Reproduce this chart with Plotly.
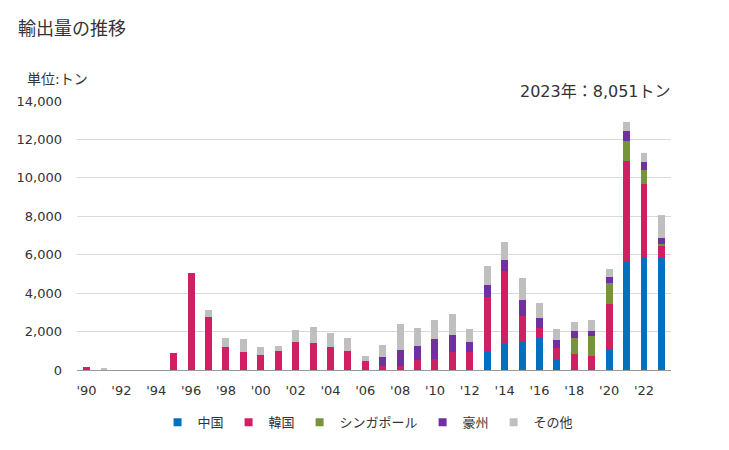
import plotly.graph_objects as go

years = list(range(1990, 2024))
tick_vals = list(range(1990, 2024, 2))
tick_text = ["'90", "'92", "'94", "'96", "'98", "'00", "'02", "'04", "'06", "'08",
             "'10", "'12", "'14", "'16", "'18", "'20", "'22"]

china = [0, 0, 0, 0, 0, 0, 0, 0, 0, 0, 0, 0, 0, 0, 0, 70, 0, 0, 0, 0,
         0, 0, 0, 1000, 1410, 1450, 1660, 520, 0, 0, 1100, 5620, 5880, 5830]
korea = [150, 0, 0, 0, 0, 900, 5050, 2760, 1200, 950, 790, 1000, 1470, 1410, 1200, 930, 480, 220, 220, 520,
         590, 930, 930, 2790, 3730, 1360, 530, 620, 840, 740, 2330, 5250, 3800, 630]
singapore = [0, 0, 0, 0, 0, 0, 0, 0, 0, 0, 0, 0, 0, 0, 0, 0, 0, 0, 0, 0,
             0, 0, 0, 0, 0, 0, 0, 0, 830, 1040, 1090, 1040, 730, 100]
australia = [0, 0, 0, 0, 0, 0, 0, 0, 0, 0, 0, 0, 0, 0, 0, 0, 0, 470, 830, 740,
             1030, 900, 540, 620, 570, 830, 520, 430, 360, 250, 310, 520, 410, 310]
other = [0, 60, 0, 0, 0, 0, 0, 360, 470, 670, 410, 260, 620, 830, 730, 670, 260, 620, 1350, 930,
         980, 1080, 670, 990, 930, 1140, 770, 570, 470, 570, 410, 470, 470, 1181]

series = [
    ("中国", china, "#0070C0"),
    ("韓国", korea, "#D01F63"),
    ("シンガポール", singapore, "#77933C"),
    ("豪州", australia, "#7030A0"),
    ("その他", other, "#BFBFBF"),
]

FONT = "DejaVu Sans, Noto Sans CJK JP"
TXT = "#333333"

fig = go.Figure()
for name, vals, color in series:
    fig.add_trace(go.Bar(x=years, y=vals, name=name, showlegend=False,
                         marker=dict(color=color, line=dict(width=0))))
# legend entries with small square swatches
for name, vals, color in series:
    fig.add_trace(go.Scatter(x=[None], y=[None], mode="markers", name=name,
                             marker=dict(symbol="square", size=8, color=color)))

fig.update_layout(
    barmode="stack",
    bargap=0.6,
    width=729, height=450,
    margin=dict(l=77, r=58, t=101, b=77),
    plot_bgcolor="white", paper_bgcolor="white",
    font=dict(family=FONT, size=13, color=TXT),
    showlegend=True,
    legend=dict(orientation="h", x=0.49, xanchor="center", y=-(426 - 373) / 272, yanchor="middle",
                font=dict(size=13, color=TXT), itemwidth=30, traceorder="normal"),
    xaxis=dict(range=[1989.45, 2023.55], tickmode="array", tickvals=tick_vals, ticktext=tick_text,
               showgrid=False, showline=True, linecolor="#999999", linewidth=1, ticks="",
               ticklabelstandoff=8, tickfont=dict(size=13, color=TXT)),
    yaxis=dict(range=[0, 14000], tickmode="linear", dtick=2000, tickformat=",d",
               showgrid=True, gridcolor="#D9D9D9", gridwidth=1, zeroline=False,
               ticks="", ticklabelstandoff=14, tickfont=dict(size=13, color=TXT)),
    annotations=[
        dict(text="輸出量の推移", xref="paper", yref="paper", x=-61/594, y=1 + (101 - 26) / 272,
             xanchor="left", yanchor="middle", showarrow=False,
             font=dict(family="Noto Sans CJK JP", size=18, color=TXT)),
        dict(text="単位:トン", xref="paper", yref="paper", x=-52/594, y=1 + (101 - 79) / 272,
             xanchor="left", yanchor="middle", showarrow=False, font=dict(size=14, color=TXT)),
        dict(text="2023年：8,051トン", xref="paper", yref="paper", x=1 + 2/594, y=1 + (101 - 91) / 272,
             xanchor="right", yanchor="middle", showarrow=False, font=dict(size=16, color=TXT)),
    ],
)

fig.write_html("out.html", config={"displayModeBar": False},
               post_script="document.body.style.margin='0';")
